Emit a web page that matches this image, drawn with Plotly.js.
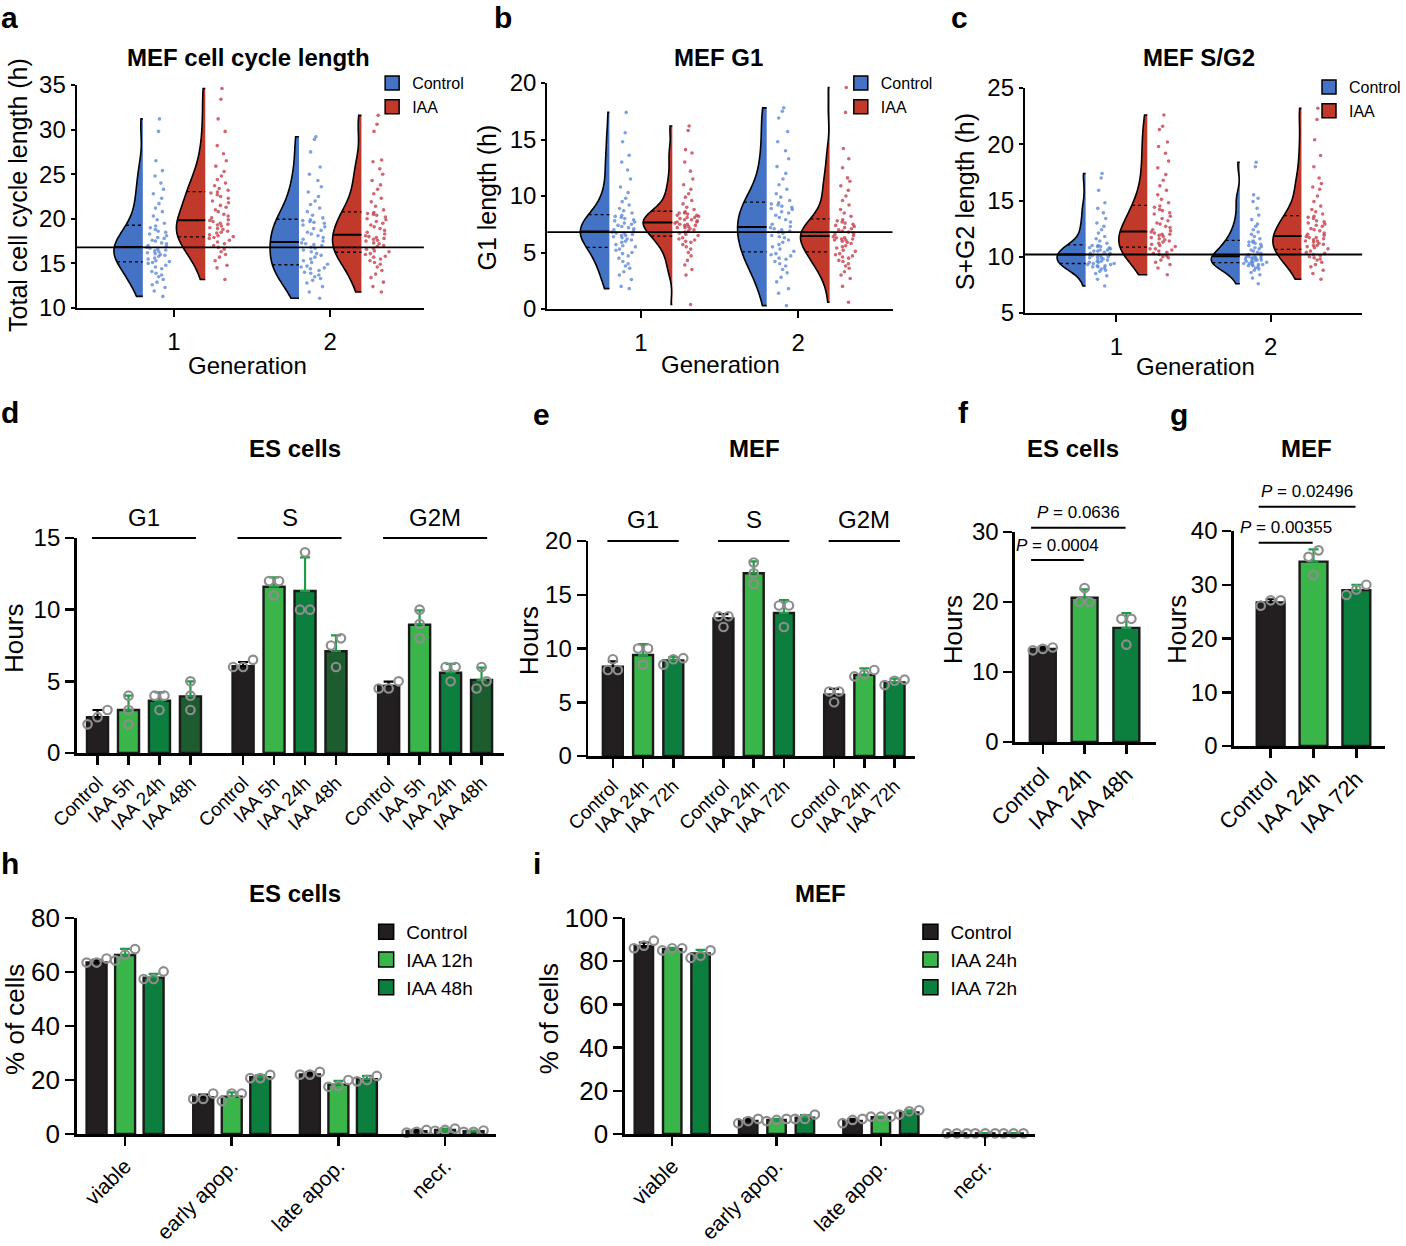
<!DOCTYPE html>
<html><head><meta charset="utf-8">
<script src="https://cdn.plot.ly/plotly-3.0.1.min.js"></script>
<style>body{margin:0;background:#fff}#chart{width:1406px;height:1246px}</style>
</head><body><div id="chart"></div>
<script>
// ===================== DATA =====================
const generations = [1, 2];
const genLabels = ['1', '2'];
const violinNames = ['Control', 'IAA'];

// a: MEF total cell cycle length (h)
const totalCtrlGen1 = [11.3,11.9,12.3,12.6,12.9,13.2,13.5,13.7,13.9,14.1,14.4,14.6,14.8,15.0,15.1,15.2,15.3,15.5,15.6,15.8,15.9,16.0,16.1,16.2,16.3,16.4,16.5,16.6,16.7,16.8,16.9,17.0,17.2,17.3,17.5,17.6,17.8,17.9,18.1,18.3,18.5,18.6,18.8,19.0,19.2,19.5,19.9,20.3,20.8,21.2,21.7,22.3,22.8,23.3,24.0,24.8,25.4,26.5,29.8,31.2];
const totalIaaGen1 = [13.2,14.5,14.8,15.3,15.7,16.0,16.3,16.6,16.8,17.0,17.2,17.4,17.6,17.8,17.9,18.0,18.1,18.2,18.4,18.5,18.6,18.8,18.9,19.0,19.2,19.3,19.4,19.5,19.7,19.8,19.9,20.1,20.3,20.5,20.8,21.0,21.3,21.5,21.8,22.0,22.3,22.5,22.7,22.9,23.0,23.2,23.4,23.7,24.0,24.4,24.8,25.3,25.9,26.5,27.3,28.2,29.8,31.2,33.4,34.6];
const totalCtrlGen2 = [11.1,11.8,12.4,12.8,13.1,13.3,13.5,13.7,13.9,14.0,14.2,14.4,14.5,14.6,14.7,14.9,15.1,15.3,15.5,15.7,15.9,16.1,16.3,16.5,16.7,16.8,17.0,17.1,17.2,17.3,17.5,17.7,17.9,18.1,18.3,18.5,18.7,18.9,19.1,19.3,19.5,19.6,19.7,19.8,19.9,20.1,20.4,20.8,21.2,21.6,22.0,22.5,23.0,23.6,24.3,25.0,25.8,27.5,28.9,29.2];
const totalIaaGen2 = [11.8,12.4,12.9,13.4,13.8,14.2,14.6,14.9,15.1,15.3,15.5,15.7,15.8,16.0,16.1,16.3,16.4,16.6,16.7,16.9,17.0,17.2,17.3,17.5,17.6,17.7,17.8,17.9,18.0,18.1,18.3,18.5,18.7,18.9,19.1,19.3,19.5,19.7,19.9,20.0,20.2,20.4,20.5,20.6,20.7,21.0,21.4,21.9,22.3,22.8,23.3,23.8,24.3,25.0,25.6,26.4,26.6,29.8,30.6,31.6];
const totalRef = 16.8;

// b: MEF G1 length (h)
const g1CtrlGen1 = [1.8,2.0,2.6,3.0,3.3,3.6,3.8,4.0,4.2,4.5,4.7,4.9,5.0,5.2,5.3,5.5,5.6,5.7,5.9,6.0,6.1,6.2,6.3,6.4,6.5,6.5,6.6,6.7,6.7,6.8,6.9,7.0,7.1,7.2,7.3,7.4,7.5,7.6,7.7,7.8,7.9,8.0,8.1,8.2,8.3,8.5,8.7,8.9,9.2,9.5,9.8,10.3,10.8,11.5,12.3,13.0,13.6,14.8,15.6,17.4];
const g1IaaGen1 = [0.4,3.0,3.5,3.9,4.3,4.7,5.0,5.3,5.5,5.7,5.9,6.0,6.1,6.2,6.3,6.5,6.6,6.7,6.8,6.9,7.0,7.1,7.2,7.2,7.3,7.4,7.4,7.5,7.5,7.6,7.7,7.7,7.8,7.9,7.9,8.0,8.1,8.1,8.2,8.3,8.3,8.4,8.5,8.5,8.6,8.8,9.0,9.3,9.6,9.9,10.2,10.6,11.0,11.5,12.2,13.0,13.8,14.1,15.8,16.2];
const g1CtrlGen2 = [0.3,1.4,1.8,2.4,2.8,3.2,3.5,3.8,4.0,4.2,4.4,4.5,4.7,4.8,4.9,5.1,5.3,5.5,5.7,5.9,6.1,6.3,6.4,6.5,6.7,6.8,6.9,7.0,7.1,7.2,7.3,7.5,7.7,7.9,8.1,8.3,8.5,8.6,8.8,8.9,9.0,9.1,9.2,9.3,9.4,9.6,9.9,10.2,10.6,11.0,11.5,12.0,12.6,13.3,14.0,14.8,15.7,16.9,17.5,17.8];
const g1IaaGen2 = [0.6,2.0,2.7,3.0,3.3,3.6,3.8,4.0,4.2,4.3,4.5,4.6,4.7,4.8,4.9,5.1,5.2,5.4,5.5,5.6,5.8,5.9,6.0,6.1,6.1,6.2,6.2,6.3,6.3,6.4,6.5,6.6,6.7,6.8,6.9,7.0,7.1,7.2,7.3,7.4,7.5,7.6,7.7,7.8,7.9,8.2,8.5,8.8,9.2,9.6,10.0,10.5,10.9,11.3,11.6,12.5,13.3,14.2,17.4,19.6];
const g1Ref = 6.8;

// c: MEF S+G2 length (h)
const sg2CtrlGen1 = [7.4,8.0,8.3,8.5,8.7,8.8,8.9,9.0,9.1,9.1,9.2,9.2,9.3,9.3,9.4,9.4,9.5,9.5,9.6,9.6,9.7,9.8,9.8,9.9,9.9,10.0,10.0,10.1,10.1,10.2,10.2,10.3,10.3,10.4,10.5,10.5,10.6,10.6,10.7,10.8,10.8,10.9,10.9,11.0,11.0,11.2,11.4,11.6,11.8,12.1,12.4,12.7,13.0,13.4,13.9,14.3,14.8,15.9,17.0,17.4];
const sg2IaaGen1 = [8.4,9.0,9.3,9.5,9.7,9.9,10.0,10.1,10.2,10.3,10.4,10.5,10.6,10.7,10.7,10.9,11.0,11.1,11.2,11.3,11.4,11.5,11.6,11.7,11.8,11.9,12.0,12.0,12.1,12.2,12.3,12.4,12.6,12.7,12.9,13.0,13.2,13.4,13.6,13.8,13.9,14.1,14.2,14.4,14.5,14.8,15.1,15.5,15.9,16.3,16.8,17.3,17.9,18.5,19.2,19.8,20.2,21.3,21.6,22.6];
const sg2CtrlGen2 = [7.6,8.1,8.4,8.6,8.8,8.9,9.0,9.1,9.2,9.2,9.3,9.3,9.3,9.4,9.4,9.5,9.5,9.6,9.6,9.7,9.7,9.7,9.8,9.8,9.9,9.9,9.9,10.0,10.0,10.0,10.1,10.2,10.3,10.4,10.5,10.6,10.7,10.8,10.9,11.0,11.1,11.2,11.3,11.3,11.4,11.6,11.8,12.0,12.2,12.4,12.7,12.9,13.3,13.7,14.3,14.9,15.2,15.5,18.0,18.4];
const sg2IaaGen2 = [8.0,8.5,8.8,9.1,9.3,9.5,9.7,9.8,9.9,10.0,10.1,10.2,10.3,10.4,10.5,10.7,10.8,10.9,11.0,11.0,11.1,11.2,11.3,11.4,11.4,11.5,11.6,11.7,11.7,11.8,11.9,12.0,12.1,12.3,12.4,12.5,12.7,12.8,12.9,13.0,13.1,13.2,13.4,13.5,13.6,13.8,14.0,14.2,14.5,14.9,15.4,16.0,16.2,16.5,17.0,18.0,19.0,20.4,22.2,23.2];
const sg2Ref = 10.2;

// d: ES cells phase lengths (hours)
const phaseNames = ['G1', 'S', 'G2M'];
const esPhaseConds = ['Control', 'IAA 5h', 'IAA 24h', 'IAA 48h'];
const esCtrlPhaseMean = [2.5, 6.05, 4.68];
const esCtrlPhaseSD = [0.5, 0.3, 0.3];
const esCtrlPhaseReps = [[3.0, 2.0, 2.5], [6.5, 6.0, 6.0], [5.0, 4.5, 4.5]];
const es5hPhaseMean = [3.0, 11.6, 8.95];
const es5hPhaseSD = [1.0, 0.65, 1.0];
const es5hPhaseReps = [[4.0, 3.0, 2.0], [12.0, 12.0, 11.0], [10.0, 9.0, 8.0]];
const es24hPhaseMean = [3.65, 11.3, 5.6];
const es24hPhaseSD = [0.58, 2.35, 0.62];
const es24hPhaseReps = [[4.0, 4.0, 3.0], [14.0, 10.0, 10.0], [6.0, 6.0, 5.0]];
const es48hPhaseMean = [3.95, 7.1, 5.1];
const es48hPhaseSD = [1.05, 1.1, 0.85];
const es48hPhaseReps = [[5.0, 4.0, 3.0], [8.0, 7.5, 6.0], [6.0, 4.5, 5.0]];

// e: MEF phase lengths (hours)
const mefPhaseConds = ['Control', 'IAA 24h', 'IAA 72h'];
const mefCtrlPhaseMean = [8.3, 12.8, 5.7];
const mefCtrlPhaseSD = [0.5, 0.4, 0.55];
const mefCtrlPhaseReps = [[9.0, 8.0, 8.0], [13.0, 13.0, 12.0], [6.0, 6.0, 5.0]];
const mef24hPhaseMean = [9.4, 17.0, 7.55];
const mef24hPhaseSD = [1.0, 1.1, 0.6];
const mef24hPhaseReps = [[10.0, 10.0, 8.5], [18.0, 17.0, 16.0], [7.4, 8.0, 7.6]];
const mef72hPhaseMean = [8.9, 13.3, 6.85];
const mef72hPhaseSD = [0.3, 1.2, 0.35];
const mef72hPhaseReps = [[8.5, 9.0, 9.1], [14.0, 14.0, 12.0], [6.6, 7.0, 7.1]];

// f: ES cells total cycle (hours)
const esTotalConds = ['Control', 'IAA 24h', 'IAA 48h'];
const esTotalMean = [13.3, 20.6, 16.3];
const esTotalSD = [0.3, 1.2, 2.1];
const esTotalReps = [[13.1, 13.5, 13.3], [22.0, 20.0, 20.0], [17.6, 17.6, 13.9]];
const esPLabels = ['<i>P</i> = 0.0004', '<i>P</i> = 0.0636'];
const esPFrom = [0, 0];
const esPTo = [1, 2];
const esPLevel = [26, 30.6];

// g: MEF total cycle (hours)
const mefTotalConds = ['Control', 'IAA 24h', 'IAA 72h'];
const mefTotalMean = [26.7, 34.3, 29.0];
const mefTotalSD = [0.6, 2.3, 1.0];
const mefTotalReps = [[26.1, 27.1, 27.1], [36.4, 35.2, 31.8], [30.0, 29.1, 28.1]];
const mefPLabels = ['<i>P</i> = 0.00355', '<i>P</i> = 0.02496'];
const mefPFrom = [0, 0];
const mefPTo = [1, 2];
const mefPLevel = [37.8, 44.5];

// h: ES cells apoptosis (% of cells)
const apoCategories = ['viable', 'early apop.', 'late apop.', 'necr.'];
const esApoConds = ['Control', 'IAA 12h', 'IAA 48h'];
const esApoCtrlMean = [63.5, 13.6, 22.1, 1.0];
const esApoCtrlSD = [1.0, 1.0, 0.7, 0.5];
const esApoCtrlReps = [[65, 63.5, 63.5], [15, 13, 13], [23, 22, 22], [1.5, 0.5, 0.8]];
const esApo12Mean = [66.3, 13.8, 18.3, 1.5];
const esApo12SD = [2.3, 1.6, 1.4, 0.5];
const esApo12Reps = [[68.5, 64.3, 66.4], [15, 12.2, 15], [20, 17.8, 17.5], [2.0, 1.2, 1.5]];
const esApo48Mean = [57.9, 21.0, 20.3, 1.0];
const esApo48SD = [1.4, 0.8, 1.2, 0.3];
const esApo48Reps = [[60.2, 57.4, 57.4], [21.9, 20.7, 20.7], [21.5, 19.5, 20.0], [1.3, 0.8, 0.8]];

// i: MEF apoptosis (% of cells)
const mefApoConds = ['Control', 'IAA 24h', 'IAA 72h'];
const mefApoCtrlMean = [86.9, 6.0, 6.0, 0.3];
const mefApoCtrlSD = [1.7, 1.0, 1.0, 0.1];
const mefApoCtrlReps = [[89.5, 86, 87.2], [7, 5, 6], [7, 5, 6.5], [0.3, 0.3, 0.3]];
const mefApo24Mean = [85.6, 6.5, 7.8, 0.3];
const mefApo24SD = [0.6, 0.5, 0.3, 0.1];
const mefApo24Reps = [[86, 85, 86], [7, 6, 6.5], [8, 8, 8], [0.3, 0.3, 0.3]];
const mefApo72Mean = [83.6, 7.6, 10.0, 0.3];
const mefApo72SD = [1.6, 1.1, 1.0, 0.1];
const mefApo72Reps = [[85, 81.5, 82.5], [9, 7, 7], [11, 9, 10.5], [0.3, 0.3, 0.3]];

// ===================== STYLE / LAYOUT =====================
const W = 1406, H = 1246;
const FONT = 'Liberation Sans, Arial, Helvetica, sans-serif';
const C_BLACK = '#231f20', C_LIGHT = '#39b54a', C_MID = '#0c7f3f', C_DARK = '#1c5c2f';
const C_ERR = '#1f9a47';
const C_BLUE = '#4472c4', C_RED = '#c0392b';
const C_BLUE_PT = 'rgba(84,130,212,0.75)', C_RED_PT = 'rgba(192,52,66,0.75)';
const VH = 0.185, VOFF = 0.2;

const traces = [];
const layout = {
  width: W, height: H, margin: {l: 0, r: 0, t: 0, b: 0},
  paper_bgcolor: '#fff', plot_bgcolor: 'rgba(0,0,0,0)',
  font: {family: FONT, color: '#000'},
  hovermode: false, violinmode: 'overlay', violingap: 0, violingroupgap: 0,
  barmode: 'overlay', showlegend: true, shapes: [], annotations: []
};

// panel geometry in pixels
const PA = {n: 1, xd: [77, 426], yd: [85, 308], xr: [0.376, 2.6], yr: [10, 35], lw: 2, tlx: 7, tly: 4};
const PB = {n: 2, xd: [550, 897], yd: [83, 309], xr: [0.405, 2.6], yr: [0, 20], lw: 2, tlx: 7, tly: 4};
const PC = {n: 3, xd: [1030, 1369], yd: [88, 313], xr: [0.406, 2.594], yr: [5, 25], lw: 2, tlx: 7, tly: 4};
const PD = {n: 4, xd: [77, 507], yd: [538, 753], xr: [-0.675, 13.14], yr: [0, 15], lw: 2.5, tlx: 9, tly: 9};
const PE = {n: 5, xd: [591, 920], yd: [541, 756], xr: [-0.82, 10.01], yr: [0, 20], lw: 2.5, tlx: 9, tly: 9};
const PF = {n: 6, xd: [1020, 1162], yd: [532, 742], xr: [-0.667, 2.714], yr: [0, 30], lw: 2.5, tlx: 9, tly: 9};
const PG = {n: 7, xd: [1240, 1392], yd: [531, 746], xr: [-0.86, 2.67], yr: [0, 40], lw: 2.5, tlx: 9, tly: 9};
const PH = {n: 8, xd: [77, 498], yd: [918, 1134], xr: [-0.70, 13.99], yr: [0, 80], lw: 2.5, tlx: 9, tly: 9};
const PI = {n: 9, xd: [628, 1040], yd: [918, 1134], xr: [-0.67, 13.79], yr: [0, 100], lw: 2.5, tlx: 9, tly: 9};

const sfx = P => (P.n === 1 ? '' : String(P.n));
const toPX = (P, v) => (P.xd[0] + (v - P.xr[0]) / (P.xr[1] - P.xr[0]) * (P.xd[1] - P.xd[0])) / W;
const toPY = (P, v) => 1 - (P.yd[1] - (v - P.yr[0]) / (P.yr[1] - P.yr[0]) * (P.yd[1] - P.yd[0])) / H;

function addAxes(P, xo, yo) {
  const s = sfx(P);
  const common = {showline: true, linecolor: '#000', linewidth: P.lw, ticks: 'outside',
    tickwidth: P.lw, tickcolor: '#000', showgrid: false, zeroline: false, fixedrange: true,
    tickfont: {family: FONT, size: 24, color: '#000'}};
  layout['xaxis' + s] = Object.assign({}, common, {domain: [P.xd[0] / W, P.xd[1] / W], range: P.xr, anchor: 'y' + s, ticklen: P.tlx}, xo);
  layout['yaxis' + s] = Object.assign({}, common, {domain: [1 - P.yd[1] / H, 1 - P.yd[0] / H], range: P.yr, anchor: 'x' + s, ticklen: P.tly}, yo);
}

function ann(text, x, y, size, o) {
  layout.annotations.push(Object.assign({text: text, x: x / W, y: 1 - y / H, xref: 'paper', yref: 'paper',
    showarrow: false, font: {family: FONT, size: size, color: '#000'}, xanchor: 'center', yanchor: 'middle'}, o || {}));
}

// legend swatch (a marker-only entry with no data point)
function legendSwatch(name, color, legendId, size) {
  traces.push({type: 'scatter', mode: 'markers', x: [null], y: [null], name: name, legend: legendId, showlegend: true,
    marker: {symbol: 'square', size: size, color: color, line: {color: '#000', width: 1.5}}});
}

// ---- KDE helpers (same rule as plotly's violin) ----
function quantile(sorted, p) {
  const idx = (sorted.length - 1) * p, lo = Math.floor(idx), hi = Math.ceil(idx);
  return sorted[lo] + (sorted[hi] - sorted[lo]) * (idx - lo);
}
function kdeInfo(vals) {
  const s = vals.slice().sort((a, b) => a - b), n = s.length;
  const mean = s.reduce((a, b) => a + b, 0) / n;
  const sd = Math.sqrt(s.reduce((a, b) => a + (b - mean) * (b - mean), 0) / (n - 1));
  const q1 = quantile(s, 0.25), q2 = quantile(s, 0.5), q3 = quantile(s, 0.75);
  const bw = 1.059 * Math.min(sd, (q3 - q1) / 1.349) * Math.pow(n, -0.2);
  const dens = y => s.reduce((a, v) => a + Math.exp(-0.5 * Math.pow((y - v) / bw, 2)), 0);
  let dmax = 0;
  for (let k = 0; k <= 400; k++) { const y = s[0] + (s[n - 1] - s[0]) * k / 400; dmax = Math.max(dmax, dens(y)); }
  return {q: [q1, q2, q3], dens: dens, dmax: dmax};
}

// ---- violin panels ----
function violinPanel(P, sets, ref, legendId) {
  const s = sfx(P);
  addAxes(P, {tickvals: generations, ticktext: genLabels, ticklabelstandoff: 4}, {dtick: 5});
  sets.forEach(st => {
    const isCtrl = st.name === violinNames[0];
    const pos = st.gen + (isCtrl ? -VOFF : VOFF);
    traces.push({
      type: 'violin', x0: pos, y: st.vals, name: st.name, showlegend: false,
      xaxis: 'x' + s, yaxis: 'y' + s, side: 'negative', width: 2 * VH, spanmode: 'hard', scalemode: 'width',
      fillcolor: isCtrl ? C_BLUE : C_RED, line: {color: '#000', width: 1.6},
      points: 'all', pointpos: 0.56, jitter: 0.5,
      marker: {size: 3.6, color: isCtrl ? C_BLUE_PT : C_RED_PT, line: {width: 0}},
      box: {visible: false}, meanline: {visible: false}, hoverinfo: 'skip'
    });
    const k = kdeInfo(st.vals);
    k.q.forEach((qv, i) => {
      const w = VH * k.dens(qv) / k.dmax;
      layout.shapes.push({type: 'line', xref: 'x' + s, yref: 'y' + s, x0: pos - w, x1: pos, y0: qv, y1: qv,
        line: {color: '#000', width: i === 1 ? 2 : 1.3, dash: i === 1 ? 'solid' : 'dot'}});
    });
  });
  layout.shapes.push({type: 'line', xref: 'x' + s + ' domain', yref: 'y' + s, x0: 0, x1: 1, y0: ref, y1: ref,
    line: {color: '#000', width: 1.8}});
  legendSwatch(violinNames[0], C_BLUE, legendId, 14);
  legendSwatch(violinNames[1], C_RED, legendId, 14);
}

violinPanel(PA, [
  {gen: generations[0], name: violinNames[0], vals: totalCtrlGen1},
  {gen: generations[0], name: violinNames[1], vals: totalIaaGen1},
  {gen: generations[1], name: violinNames[0], vals: totalCtrlGen2},
  {gen: generations[1], name: violinNames[1], vals: totalIaaGen2}], totalRef, 'legend');
violinPanel(PB, [
  {gen: generations[0], name: violinNames[0], vals: g1CtrlGen1},
  {gen: generations[0], name: violinNames[1], vals: g1IaaGen1},
  {gen: generations[1], name: violinNames[0], vals: g1CtrlGen2},
  {gen: generations[1], name: violinNames[1], vals: g1IaaGen2}], g1Ref, 'legend2');
violinPanel(PC, [
  {gen: generations[0], name: violinNames[0], vals: sg2CtrlGen1},
  {gen: generations[0], name: violinNames[1], vals: sg2IaaGen1},
  {gen: generations[1], name: violinNames[0], vals: sg2CtrlGen2},
  {gen: generations[1], name: violinNames[1], vals: sg2IaaGen2}], sg2Ref, 'legend3');

// ---- bar panels ----
function spreadPoints(P, center, vals) {
  const pxY = (P.yd[1] - P.yd[0]) / (P.yr[1] - P.yr[0]);
  const pxX = (P.xd[1] - P.xd[0]) / (P.xr[1] - P.xr[0]);
  const idx = vals.map((v, i) => i).sort((a, b) => vals[a] - vals[b]);
  const clusters = [];
  idx.forEach(i => {
    const c = clusters[clusters.length - 1];
    if (c && (vals[i] - vals[c[c.length - 1]]) * pxY < 10) c.push(i); else clusters.push([i]);
  });
  const xs = [], ys = [];
  clusters.forEach(c => c.forEach((i, j) => {
    xs.push(center + (j - (c.length - 1) / 2) * 10 / pxX); ys.push(vals[i]);
  }));
  return {x: xs, y: ys};
}

function barPanel(P, opt) {
  const s = sfx(P);
  const nG = opt.groups.length, nC = opt.conds.length;
  const pos = (g, c) => g * opt.stride + c;
  let tickvals = [], ticktext = [];
  if (opt.perBarTicks) {
    for (let g = 0; g < nG; g++) for (let c = 0; c < nC; c++) { tickvals.push(pos(g, c)); ticktext.push(opt.conds[c]); }
  } else {
    for (let g = 0; g < nG; g++) { tickvals.push(pos(g, (nC - 1) / 2)); ticktext.push(opt.groups[g]); }
  }
  addAxes(P, {tickvals: tickvals, ticktext: ticktext, tickangle: -45, tickfont: {family: FONT, size: opt.xFont, color: '#000'}},
    {dtick: opt.dtick, tickfont: {family: FONT, size: opt.yFont, color: '#000'}});
  const px = [], py = [];
  for (let c = 0; c < nC; c++) {
    const xs = opt.groups.map((_, g) => pos(g, c));
    traces.push({
      type: 'bar', x: xs, y: opt.means[c], width: opt.barW, name: opt.conds[c],
      xaxis: 'x' + s, yaxis: 'y' + s, showlegend: false,
      marker: {color: opt.colors[c], line: {color: '#1a1a1a', width: 2.4}},
      error_y: {type: 'data', array: opt.sds[c], arrayminus: opt.sds[c].map(() => 0), symmetric: false,
        color: c === 0 ? '#000' : C_ERR, thickness: 2.2, width: 5}
    });
    opt.groups.forEach((_, g) => {
      const sp = spreadPoints(P, pos(g, c), opt.reps[c][g]);
      px.push(...sp.x); py.push(...sp.y);
    });
  }
  traces.push({type: 'scatter', mode: 'markers', x: px, y: py, xaxis: 'x' + s, yaxis: 'y' + s, showlegend: false,
    cliponaxis: false, marker: {symbol: 'circle-open', size: 8.5, color: '#8e8e8e', line: {width: 2.2, color: '#8e8e8e'}}});
  if (opt.legend) opt.conds.forEach((cn, c) => legendSwatch(cn, opt.colors[c], opt.legend, 15));
  if (opt.headerLines) {
    opt.groups.forEach((gname, g) => {
      const x0 = toPX(P, pos(g, 0) - 0.18), x1 = toPX(P, pos(g, nC - 1) + 0.18), y = toPY(P, P.yr[1]);
      layout.shapes.push({type: 'line', xref: 'paper', yref: 'paper', x0: x0, x1: x1, y0: y, y1: y, line: {color: '#000', width: 2.2}});
      layout.annotations.push({text: gname, xref: 'paper', yref: 'paper', x: (x0 + x1) / 2, y: y + 21 / H, showarrow: false,
        font: {family: FONT, size: 24, color: '#000'}, xanchor: 'center', yanchor: 'middle'});
    });
  }
  if (opt.pLabels) {
    opt.pLabels.forEach((lab, k) => {
      const x0 = toPX(P, opt.pFrom[k] - 0.28), x1 = toPX(P, opt.pTo[k] - 0.02), y = toPY(P, opt.pLevel[k]);
      layout.shapes.push({type: 'line', xref: 'paper', yref: 'paper', x0: x0, x1: x1, y0: y, y1: y, line: {color: '#000', width: 2}});
      layout.annotations.push({text: lab, xref: 'paper', yref: 'paper', x: (x0 + x1) / 2, y: y + 15 / H, showarrow: false,
        font: {family: FONT, size: 17, color: '#000'}, xanchor: 'center', yanchor: 'middle'});
    });
  }
}

barPanel(PD, {groups: phaseNames, conds: esPhaseConds, stride: 4.7, barW: 0.68, perBarTicks: true, headerLines: true,
  colors: [C_BLACK, C_LIGHT, C_MID, C_DARK],
  means: [esCtrlPhaseMean, es5hPhaseMean, es24hPhaseMean, es48hPhaseMean],
  sds: [esCtrlPhaseSD, es5hPhaseSD, es24hPhaseSD, es48hPhaseSD],
  reps: [esCtrlPhaseReps, es5hPhaseReps, es24hPhaseReps, es48hPhaseReps], dtick: 5, xFont: 19, yFont: 24});
barPanel(PE, {groups: phaseNames, conds: mefPhaseConds, stride: 3.66, barW: 0.66, perBarTicks: true, headerLines: true,
  colors: [C_BLACK, C_LIGHT, C_MID],
  means: [mefCtrlPhaseMean, mef24hPhaseMean, mef72hPhaseMean],
  sds: [mefCtrlPhaseSD, mef24hPhaseSD, mef72hPhaseSD],
  reps: [mefCtrlPhaseReps, mef24hPhaseReps, mef72hPhaseReps], dtick: 5, xFont: 19, yFont: 24});
barPanel(PF, {groups: [''], conds: esTotalConds, stride: 1, barW: 0.62, perBarTicks: true,
  colors: [C_BLACK, C_LIGHT, C_MID],
  means: esTotalMean.map(v => [v]), sds: esTotalSD.map(v => [v]), reps: esTotalReps.map(r => [r]),
  pLabels: esPLabels, pFrom: esPFrom, pTo: esPTo, pLevel: esPLevel, dtick: 10, xFont: 22, yFont: 24});
barPanel(PG, {groups: [''], conds: mefTotalConds, stride: 1, barW: 0.65, perBarTicks: true,
  colors: [C_BLACK, C_LIGHT, C_MID],
  means: mefTotalMean.map(v => [v]), sds: mefTotalSD.map(v => [v]), reps: mefTotalReps.map(r => [r]),
  pLabels: mefPLabels, pFrom: mefPFrom, pTo: mefPTo, pLevel: mefPLevel, dtick: 10, xFont: 22, yFont: 24});
barPanel(PH, {groups: apoCategories, conds: esApoConds, stride: 3.74, barW: 0.7, perBarTicks: false,
  colors: [C_BLACK, C_LIGHT, C_MID], legend: 'legend4',
  means: [esApoCtrlMean, esApo12Mean, esApo48Mean], sds: [esApoCtrlSD, esApo12SD, esApo48SD],
  reps: [esApoCtrlReps, esApo12Reps, esApo48Reps], dtick: 20, xFont: 21, yFont: 26});
barPanel(PI, {groups: apoCategories, conds: mefApoConds, stride: 3.68, barW: 0.65, perBarTicks: false,
  colors: [C_BLACK, C_LIGHT, C_MID], legend: 'legend5',
  means: [mefApoCtrlMean, mefApo24Mean, mefApo72Mean], sds: [mefApoCtrlSD, mefApo24SD, mefApo72SD],
  reps: [mefApoCtrlReps, mefApo24Reps, mefApo72Reps], dtick: 20, xFont: 21, yFont: 26});

// ---- legends ----
const legBase = {xanchor: 'left', yanchor: 'top', bgcolor: 'rgba(0,0,0,0)', borderwidth: 0, tracegroupgap: 0,
  itemclick: false, itemdoubleclick: false, traceorder: 'normal'};
layout.legend = Object.assign({}, legBase, {x: 374 / W, y: 1 - 66 / H, font: {family: FONT, size: 16, color: '#000'}});
layout.legend2 = Object.assign({}, legBase, {x: 845 / W, y: 1 - 66 / H, font: {family: FONT, size: 16, color: '#000'}});
layout.legend3 = Object.assign({}, legBase, {x: 1316 / W, y: 1 - 70 / H, font: {family: FONT, size: 16, color: '#000'}});
layout.legend4 = Object.assign({}, legBase, {x: 368 / W, y: 1 - 913 / H, font: {family: FONT, size: 19, color: '#000'}});
layout.legend5 = Object.assign({}, legBase, {x: 915 / W, y: 1 - 913 / H, font: {family: FONT, size: 19, color: '#000'}});

// ---- titles, axis titles, panel letters ----
const bold = t => '<b>' + t + '</b>';
ann(bold('MEF cell cycle length'), 250, 57, 24);
ann(bold('MEF G1'), 722, 57, 24);
ann(bold('MEF S/G2'), 1205, 58, 24);
ann(bold('ES cells'), 296, 448, 24);
ann(bold('MEF'), 758, 448, 24);
ann(bold('ES cells'), 1078, 448, 24);
ann(bold('MEF'), 1313, 448, 24);
ann(bold('ES cells'), 296, 893, 24);
ann(bold('MEF'), 825, 893, 24);

ann('Total cell cycle length (h)', 18, 195, 25, {textangle: -90});
ann('G1 length (h)', 489, 198, 25, {textangle: -90});
ann('S+G2 length (h)', 970, 202, 25, {textangle: -90});
ann('Generation', 249, 366, 24);
ann('Generation', 724, 364, 24);
ann('Generation', 1201, 367, 24);
ann('Hours', 14, 638, 26, {textangle: -90});
ann('Hours', 532, 641, 26, {textangle: -90});
ann('Hours', 958, 630, 26, {textangle: -90});
ann('Hours', 1183, 630, 26, {textangle: -90});
ann('% of cells', 15, 1019, 26, {textangle: -90});
ann('% of cells', 552, 1019, 26, {textangle: -90});

[['a', 0, 0], ['b', 495, 0], ['c', 955, 0], ['d', 0, 395], ['e', 535, 397], ['f', 962, 395], ['g', 1175, 397],
 ['h', 0, 846], ['i', 535, 846]].forEach(l => ann(bold(l[0]), l[1], l[2], 30, {xanchor: 'left', yanchor: 'top', borderpad: 0}));

Plotly.newPlot('chart', traces, layout, {staticPlot: true, displayModeBar: false});
</script>
</body></html>
